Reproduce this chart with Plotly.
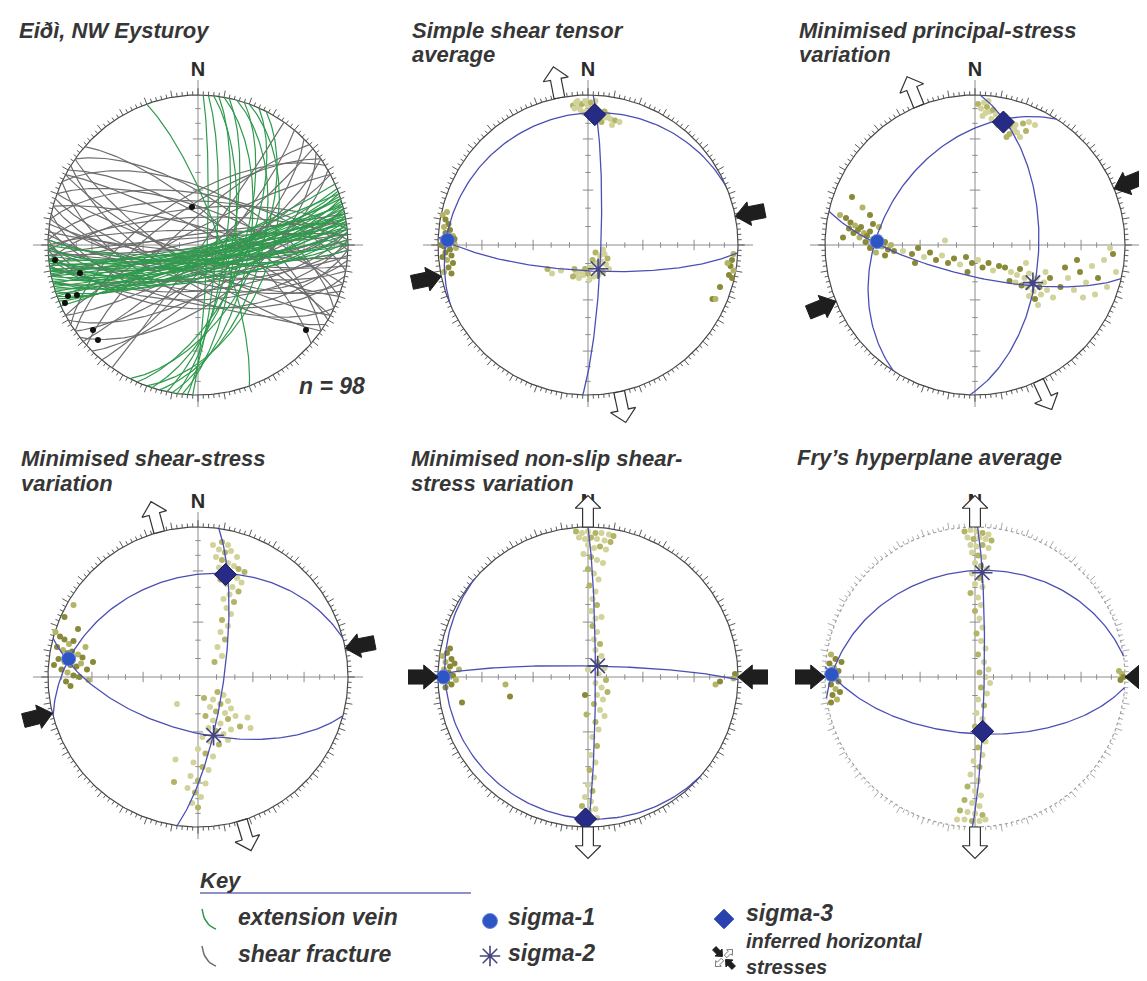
import numpy as np
import plotly.graph_objects as go

# ------------------------------------------------------------------ data
# Net 1 (Eiði): great circles, strike / dip (right-hand rule)
vein_strike = [66, 68, 69, 70, 70, 72, 72, 73, 74, 74, 75, 76, 76, 77, 78, 78, 79, 80, 80, 81,
               82, 82, 83, 84, 84, 85, 86, 88, 71, 79, 75, 81, 90, 92, 89,
               340, 2, 4, 6, 8, 10, 15, 18, 20, 27, 12, 24]
vein_dip = [86, 82, 80, 78, 88, 85, 75, 80, 76, 84, 88, 83, 72, 79, 86, 80, 74, 81, 89, 77,
            87, 70, 84, 79, 86, 72, 82, 80, 83, 87, 79, 84, 84, 80, 77,
            78, 85, 80, 70, 75, 62, 55, 66, 50, 58, 72, 64]
shear_strike = [80, 84, 88, 92, 95, 76, 262, 266, 270, 258, 86, 82,
                88, 92, 85, 96, 90, 100, 105, 94, 98, 110, 102,
                272, 268, 264, 285, 280,
                290, 300, 311, 118, 122, 115, 108, 125, 298, 295, 305,
                40, 45, 50, 55, 60, 228, 235, 242, 35, 62, 52, 238]
shear_dip = [85, 78, 82, 80, 86, 75, 84, 86, 82, 88, 88, 72,
             60, 55, 65, 65, 70, 75, 70, 76, 82, 84, 58,
             66, 75, 70, 80, 62,
             70, 75, 74, 80, 70, 62, 75, 78, 82, 60, 65,
             80, 70, 85, 75, 65, 78, 70, 82, 88, 80, 60, 64]
# slickenline markers (net units, x east / y north)
striae_x = [-0.953, -0.787, -0.867, -0.807, -0.887, -0.700, -0.667, -0.040, 0.720]
striae_y = [-0.100, -0.187, -0.340, -0.333, -0.387, -0.567, -0.633, 0.253, -0.567]

# Principal stress axes (trend, plunge) for nets 2..6
sigma1_trend = [272, 272, 278, 270, 271]
sigma1_plunge = [7, 35, 14, 4, 5]
sigma2_trend = [157, 123, 165, 41, 4]
sigma2_plunge = [76, 52, 57, 82, 31]
sigma3_trend = [3, 13, 15, 181, 172]
sigma3_plunge = [14, 17, 30, 6, 60]

# inferred horizontal stresses (azimuths)
compression_az = [[79, 258], [68, 248], [79, 256], [90, 270], [90, 270]]
extension_az = [[349, 168], [338, 155], [345, 163], [0, 180], [0, 180]]

# Bootstrap solution clouds (net units, x east / y north)
n2_north = [(-0.10, 0.93), (-0.08, 0.95), (-0.06, 0.92), (-0.04, 0.94), (-0.02, 0.96), (0.00, 0.93),
            (0.02, 0.95), (-0.05, 0.90), (-0.09, 0.91), (0.03, 0.91), (0.06, 0.90), (0.08, 0.88),
            (0.10, 0.86), (0.12, 0.85), (0.15, 0.84), (0.18, 0.83), (0.21, 0.82), (0.13, 0.87),
            (0.07, 0.84), (0.04, 0.85), (-0.01, 0.89), (0.01, 0.86), (0.05, 0.96), (-0.03, 0.88),
            (0.09, 0.82), (0.16, 0.80), (-0.07, 0.96), (0.11, 0.89)]
n2_west = [(-0.97, 0.20), (-0.95, 0.17), (-0.93, 0.14), (-0.96, 0.12), (-0.92, 0.10), (-0.95, 0.08),
           (-0.90, 0.06), (-0.97, 0.04), (-0.93, 0.03), (-0.89, 0.01), (-0.96, -0.01), (-0.92, -0.03),
           (-0.88, -0.02), (-0.95, -0.05), (-0.91, -0.07), (-0.94, -0.10), (-0.90, -0.12), (-0.93, -0.15),
           (-0.96, -0.18), (-0.91, -0.19), (-0.98, 0.00), (-0.94, 0.22), (-0.89, 0.04), (-0.97, -0.08)]
n2_center = [(0.05, -0.05), (0.08, -0.07), (0.11, -0.06), (0.13, -0.09), (0.09, -0.11), (0.06, -0.12),
             (0.03, -0.10), (0.12, -0.13), (0.02, -0.15), (-0.02, -0.16), (-0.05, -0.18), (-0.08, -0.19),
             (-0.10, -0.21), (-0.06, -0.22), (-0.03, -0.20), (0.00, -0.19), (0.04, -0.21), (0.07, -0.20),
             (0.10, -0.18), (0.14, -0.16), (0.01, -0.23), (-0.09, -0.16), (-0.18, -0.17), (-0.24, -0.19),
             (-0.27, -0.16), (0.10, -0.03)]
n2_east = [(0.97, -0.06), (0.96, -0.10), (0.95, -0.14), (0.97, -0.17), (0.94, -0.20), (0.96, -0.22),
           (0.93, -0.12), (0.88, -0.28), (0.83, -0.36), (0.85, -0.36)]

n3_north = [(0.02, 0.94), (0.04, 0.91), (0.06, 0.95), (0.08, 0.92), (0.10, 0.89), (0.07, 0.88),
            (0.12, 0.90), (0.14, 0.87), (0.16, 0.85), (0.18, 0.83), (0.20, 0.86), (0.22, 0.81),
            (0.24, 0.79), (0.26, 0.77), (0.28, 0.75), (0.23, 0.74), (0.30, 0.72), (0.27, 0.80),
            (0.32, 0.81), (0.36, 0.82), (0.40, 0.80), (0.34, 0.76), (0.11, 0.84), (0.15, 0.80),
            (0.19, 0.78), (0.05, 0.86), (0.09, 0.96), (0.21, 0.72)]
n3_west = [(-0.90, 0.20), (-0.86, 0.18), (-0.83, 0.15), (-0.80, 0.13), (-0.78, 0.10), (-0.76, 0.12),
           (-0.74, 0.08), (-0.72, 0.06), (-0.70, 0.09), (-0.68, 0.04), (-0.66, 0.01), (-0.64, 0.05),
           (-0.62, -0.01), (-0.60, 0.02), (-0.58, -0.03), (-0.56, 0.00), (-0.70, -0.02), (-0.73, 0.02),
           (-0.77, 0.05), (-0.81, 0.08), (-0.84, 0.11), (-0.66, -0.05), (-0.60, -0.07), (-0.54, -0.04),
           (-0.75, 0.25), (-0.82, 0.32), (-0.70, 0.20), (-0.64, 0.12), (-0.88, 0.05), (-0.68, 0.14)]
n3_trail = [(-0.48, -0.04), (-0.42, -0.06), (-0.38, -0.02), (-0.34, -0.08), (-0.30, -0.05), (-0.26, -0.10),
            (-0.22, -0.07), (-0.18, -0.12), (-0.14, -0.09), (-0.10, -0.13), (-0.06, -0.08), (-0.02, -0.12),
            (0.02, -0.10), (0.05, -0.15), (0.09, -0.12), (0.12, -0.17), (0.16, -0.14), (-0.40, -0.12),
            (-0.20, 0.03), (-0.05, -0.18)]
n3_southeast = [(0.20, -0.15), (0.24, -0.18), (0.28, -0.20), (0.30, -0.16), (0.33, -0.22), (0.36, -0.19),
                (0.38, -0.25), (0.41, -0.22), (0.35, -0.28), (0.31, -0.27), (0.27, -0.25), (0.39, -0.31),
                (0.43, -0.28), (0.46, -0.25), (0.44, -0.33), (0.40, -0.36), (0.36, -0.34), (0.48, -0.30),
                (0.50, -0.22), (0.47, -0.18), (0.34, -0.12), (0.23, -0.24), (0.42, -0.40), (0.52, -0.35),
                (0.57, -0.28), (0.62, -0.22), (0.66, -0.30), (0.70, -0.18), (0.74, -0.25), (0.78, -0.14),
                (0.82, -0.22), (0.86, -0.10), (0.88, -0.28), (0.92, -0.06), (0.94, -0.18), (0.72, -0.35),
                (0.60, -0.15), (0.80, -0.33), (0.90, -0.02), (0.68, -0.10)]

n4_north = [(0.16, 0.90), (0.20, 0.88), (0.14, 0.85), (0.18, 0.83), (0.22, 0.84), (0.12, 0.80),
            (0.16, 0.78), (0.20, 0.76), (0.24, 0.74), (0.27, 0.72), (0.14, 0.73), (0.18, 0.70),
            (0.22, 0.68), (0.26, 0.66), (0.29, 0.63), (0.15, 0.65), (0.19, 0.62), (0.23, 0.60),
            (0.27, 0.57), (0.21, 0.55), (0.17, 0.52), (0.24, 0.50), (0.19, 0.46), (0.22, 0.42),
            (0.16, 0.38), (0.20, 0.34), (0.15, 0.30), (0.18, 0.25), (0.13, 0.20), (0.16, 0.14),
            (0.11, 0.10), (0.26, 0.80), (0.10, 0.88), (0.31, 0.70)]
n4_west = [(-0.95, 0.30), (-0.92, 0.27), (-0.89, 0.25), (-0.86, 0.22), (-0.83, 0.24), (-0.94, 0.20),
           (-0.90, 0.18), (-0.87, 0.16), (-0.84, 0.17), (-0.80, 0.15), (-0.77, 0.13), (-0.93, 0.12),
           (-0.89, 0.10), (-0.85, 0.08), (-0.81, 0.07), (-0.78, 0.09), (-0.74, 0.05), (-0.91, 0.05),
           (-0.87, 0.03), (-0.83, 0.01), (-0.79, 0.00), (-0.73, -0.02), (-0.88, -0.03), (-0.96, 0.08),
           (-0.83, 0.48), (-0.89, 0.40), (-0.80, 0.32), (-0.75, 0.20), (-0.85, -0.06), (-0.70, 0.10)]
n4_south = [(0.13, -0.10), (0.17, -0.12), (0.10, -0.15), (0.15, -0.18), (0.20, -0.16), (0.08, -0.20),
            (0.12, -0.23), (0.18, -0.24), (0.22, -0.21), (0.05, -0.26), (0.10, -0.29), (0.15, -0.31),
            (0.20, -0.28), (0.25, -0.26), (0.07, -0.34), (0.12, -0.36), (0.17, -0.38), (0.22, -0.35),
            (0.28, -0.33), (0.03, -0.40), (0.08, -0.43), (0.14, -0.45), (0.20, -0.42), (0.00, -0.48),
            (0.05, -0.51), (0.10, -0.53), (-0.03, -0.57), (0.03, -0.60), (0.07, -0.62), (-0.05, -0.66),
            (0.00, -0.69), (0.05, -0.71), (-0.07, -0.74), (-0.02, -0.77), (0.02, -0.80), (-0.04, -0.84),
            (0.00, -0.87), (-0.14, -0.18), (-0.15, -0.55), (-0.16, -0.70), (0.35, -0.34), (0.33, -0.27),
            (0.04, -0.14)]

n5_band = [(-0.08, 0.97), (-0.04, 0.96), (0.00, 0.97), (0.05, 0.96), (0.09, 0.96), (0.14, 0.95),
           (0.17, 0.94), (-0.06, 0.93), (-0.02, 0.92), (0.02, 0.93), (0.06, 0.92), (0.11, 0.91),
           (0.15, 0.90), (0.00, 0.88), (0.04, 0.86), (0.08, 0.87), (0.12, 0.85), (-0.03, 0.82),
           (0.02, 0.80), (0.06, 0.78), (0.10, 0.76), (0.00, 0.72), (0.04, 0.69), (0.07, 0.65),
           (0.01, 0.61), (0.05, 0.57), (0.03, 0.52), (0.06, 0.48), (0.02, 0.44), (0.05, 0.39),
           (0.03, 0.34), (0.06, 0.30), (0.04, 0.25), (0.08, 0.22), (0.05, 0.18), (0.09, 0.14),
           (0.06, 0.10), (0.11, 0.06), (0.07, 0.02), (0.12, -0.02), (0.05, -0.04), (0.09, -0.07),
           (0.13, -0.10), (0.06, -0.12), (0.10, -0.15), (0.04, -0.18), (0.08, -0.22), (0.11, -0.26),
           (0.05, -0.30), (0.07, -0.35), (0.03, -0.40), (0.06, -0.46), (0.02, -0.52), (0.05, -0.57),
           (0.01, -0.62), (0.04, -0.67), (0.00, -0.72), (0.03, -0.76), (-0.02, -0.80), (0.02, -0.83),
           (-0.04, -0.86), (0.01, -0.89), (0.05, -0.88), (-0.03, -0.93), (0.02, -0.95), (0.06, -0.94),
           (-0.06, -0.96), (0.09, 0.40), (0.00, 0.05), (-0.01, -0.25)]
n5_west = [(-0.97, 0.14), (-0.94, 0.16), (-0.91, 0.12), (-0.95, 0.10), (-0.92, 0.07), (-0.89, 0.09),
           (-0.96, 0.05), (-0.93, 0.03), (-0.90, 0.01), (-0.97, -0.01), (-0.94, -0.03), (-0.91, -0.05),
           (-0.88, -0.02), (-0.95, -0.07), (-0.92, 0.19), (-0.86, 0.05)]
n5_scatter = [(-0.55, -0.05), (-0.52, -0.13), (-0.02, -0.12), (0.85, -0.05), (0.88, -0.03),
              (0.98, 0.02), (0.97, -0.01), (-0.84, -0.17)]

n6_band = [(-0.07, 0.97), (-0.03, 0.98), (0.01, 0.97), (0.05, 0.96), (0.09, 0.95), (-0.05, 0.93),
           (-0.01, 0.92), (0.03, 0.93), (0.07, 0.92), (0.11, 0.91), (-0.03, 0.88), (0.01, 0.87),
           (0.05, 0.88), (0.09, 0.86), (-0.02, 0.83), (0.02, 0.81), (0.06, 0.80), (0.00, 0.76),
           (0.04, 0.74), (0.08, 0.72), (-0.02, 0.69), (0.03, 0.66), (0.00, 0.62), (0.05, 0.60),
           (-0.03, 0.56), (0.02, 0.53), (0.04, 0.48), (0.00, 0.44), (0.03, 0.39), (0.05, 0.33),
           (0.01, 0.29), (0.04, 0.24), (0.07, 0.19), (0.02, 0.15), (0.06, 0.10), (0.09, 0.05),
           (0.03, 0.03), (0.07, 0.00), (0.10, -0.04), (0.04, -0.07), (0.08, -0.11), (0.02, -0.15),
           (0.06, -0.19), (0.01, -0.24), (0.05, -0.28), (0.00, -0.33), (0.04, -0.38), (0.07, -0.43),
           (0.02, -0.47), (0.05, -0.52), (-0.01, -0.56), (0.03, -0.60), (-0.03, -0.65), (0.02, -0.69),
           (-0.05, -0.73), (0.00, -0.76), (0.04, -0.79), (-0.07, -0.82), (-0.02, -0.84), (0.03, -0.86),
           (-0.10, -0.89), (-0.05, -0.90), (0.00, -0.91), (0.05, -0.92), (-0.12, -0.95), (-0.07, -0.95),
           (-0.02, -0.96), (0.03, -0.96), (0.07, -0.95)]
n6_west = [(-0.96, 0.15), (-0.93, 0.12), (-0.97, 0.09), (-0.94, 0.06), (-0.91, 0.04), (-0.97, 0.02),
           (-0.94, -0.01), (-0.91, -0.03), (-0.96, -0.05), (-0.93, -0.08), (-0.90, -0.10), (-0.95, -0.12),
           (-0.92, -0.15), (-0.96, -0.17), (-0.89, 0.10)]
n6_east = [(0.98, 0.02), (0.97, -0.02), (0.99, 0.00), (0.96, 0.04)]

titles = [["Eiðì, NW Eysturoy"], ["Simple shear tensor", "average"],
          ["Minimised principal-stress", "variation"], ["Minimised shear-stress", "variation"],
          ["Minimised non-slip shear-", "stress variation"], ["Fry\u2019s hyperplane average"]]

# ------------------------------------------------------------------ layout constants
W, H = 1147, 981
R = 150.0
CENTERS = [(190, 237), (580, 237), (967, 237), (190, 669), (580, 669), (967, 669)]
XR, YR = 1.2, 1.25
FONT = "Liberation Sans, Arial, Helvetica, sans-serif"
TXT = "#363636"
LIGHT, MID, DARK = "#d2d39a", "#b3b466", "#8a8938"
BLUE = "#4b4fb3"
STAR = "#45457f"

# ------------------------------------------------------------------ geometry helpers
def line_vec(trend, plunge):
    t, p = np.radians(trend), np.radians(plunge)
    return np.array([np.cos(p) * np.sin(t), np.cos(p) * np.cos(t), -np.sin(p)])


def project(v):
    vx, vy, vz = v
    if vz > 0:
        vx, vy, vz = -vx, -vy, -vz
    k = 1.0 / np.sqrt(1.0 - vz)
    return vx * k, vy * k


def great_circle(pole_trend, pole_plunge, n=121):
    nv = line_vec(pole_trend, pole_plunge)
    a = np.cross(nv, [0.0, 0.0, 1.0])
    if np.linalg.norm(a) < 1e-9:
        a = np.array([1.0, 0.0, 0.0])
    a = a / np.linalg.norm(a)
    b = np.cross(nv, a)
    b = b / np.linalg.norm(b)
    if b[2] > 0:
        b = -b
    t = np.linspace(0, np.pi, n)
    pts = np.outer(np.cos(t), a) + np.outer(np.sin(t), b)
    z = np.clip(pts[:, 2], -1, 0)
    k = 1.0 / np.sqrt(1.0 - z)
    return pts[:, 0] * k, pts[:, 1] * k


def plane_circle(strike, dip):
    return great_circle((strike - 90) % 360, 90 - dip)


def joined(curves):
    xs, ys = [], []
    for cx, cy in curves:
        xs += list(cx) + [None]
        ys += list(cy) + [None]
    return xs, ys


def arrow_poly(az, r0, length, head_len, head_hw, shaft_hw, inward):
    if inward:
        pts = [(r0, 0), (r0 + head_len, head_hw), (r0 + head_len, shaft_hw), (r0 + length, shaft_hw),
               (r0 + length, -shaft_hw), (r0 + head_len, -shaft_hw), (r0 + head_len, -head_hw), (r0, 0)]
    else:
        e = r0 + length - head_len
        pts = [(r0, shaft_hw), (e, shaft_hw), (e, head_hw), (r0 + length, 0), (e, -head_hw),
               (e, -shaft_hw), (r0, -shaft_hw), (r0, shaft_hw)]
    a = np.radians(az)
    u = np.array([np.sin(a), np.cos(a)])
    w = np.array([np.cos(a), -np.sin(a)])
    xs = [r * u[0] + t * w[0] for r, t in pts]
    ys = [r * u[1] + t * w[1] for r, t in pts]
    return xs, ys


fig = go.Figure()


def add(tr, i):
    tr.update(xaxis="x" if i == 1 else f"x{i}", yaxis="y" if i == 1 else f"y{i}",
              showlegend=False, hoverinfo="skip")
    fig.add_trace(tr)


def lines_trace(xy, **kw):
    return go.Scatter(x=xy[0], y=xy[1], mode="lines", **kw)


def frame(i, light=False):
    xs, ys = [-1.1, 1.1, None, 0, 0, None], [0, 0, None, -1.08, 1.1, None]
    for p in range(10, 90, 10):
        d = np.sqrt(1 - np.sin(np.radians(p)))
        L = 0.035 if p % 30 == 0 else 0.018
        for s in (-1, 1):
            xs += [s * d, s * d, None, -L, L, None]
            ys += [-L, L, None, s * d, s * d, None]
    add(go.Scatter(x=xs, y=ys, mode="lines", line=dict(color="#8c8c8c", width=1)), i)
    th = np.linspace(0, 2 * np.pi, 361)
    pc = "#a0a0a0" if light else "#4a4a4a"
    add(go.Scatter(x=np.sin(th), y=np.cos(th), mode="lines",
                   line=dict(color=pc, width=1.2, dash="dot" if light else "solid")), i)
    tx, ty = [], []
    for a in range(0, 360, 2):
        L = 0.045 if a % 10 == 0 else 0.025
        ar = np.radians(a)
        tx += [np.sin(ar), (1 + L) * np.sin(ar), None]
        ty += [np.cos(ar), (1 + L) * np.cos(ar), None]
    add(go.Scatter(x=tx, y=ty, mode="lines", line=dict(color=pc, width=0.9)), i)


def cloud(i, pts, c1, c2):
    cols = [c2 if k % 3 == 0 else c1 for k in range(len(pts))]
    add(go.Scatter(x=[p[0] for p in pts], y=[p[1] for p in pts], mode="markers",
                   marker=dict(size=6, color=cols, line=dict(width=0))), i)


def north(i):
    add(go.Scatter(x=[0], y=[1.16], mode="text", text=["<b>N</b>"], cliponaxis=False,
                   textfont=dict(family=FONT, size=20, color="#2a2a2a")), i)


# ------------------------------------------------------------------ net 1
frame(1)
add(lines_trace(joined([plane_circle(s, d) for s, d in zip(shear_strike, shear_dip)]),
                line=dict(color="#6e6e6e", width=1.2)), 1)
add(lines_trace(joined([plane_circle(s, d) for s, d in zip(vein_strike, vein_dip)]),
                line=dict(color="#2f9a4c", width=1.2)), 1)
add(go.Scatter(x=striae_x, y=striae_y, mode="markers", marker=dict(size=6, color="#111111")), 1)
north(1)

# ------------------------------------------------------------------ nets 2..6
clouds = {
    2: [(n2_north, LIGHT, MID), (n2_west, DARK, MID), (n2_center, LIGHT, MID), (n2_east, DARK, MID)],
    3: [(n3_north, LIGHT, MID), (n3_west, DARK, MID), (n3_trail, DARK, LIGHT), (n3_southeast, LIGHT, DARK)],
    4: [(n4_north, LIGHT, MID), (n4_west, DARK, MID), (n4_south, LIGHT, MID)],
    5: [(n5_band, LIGHT, MID), (n5_west, DARK, MID), (n5_scatter, DARK, MID)],
    6: [(n6_band, LIGHT, MID), (n6_west, DARK, MID), (n6_east, DARK, MID)],
}
for k in range(5):
    i = k + 2
    frame(i, light=(i == 6))
    for pts, c1, c2 in clouds[i]:
        cloud(i, pts, c1, c2)
    axes = [(sigma1_trend[k], sigma1_plunge[k]), (sigma2_trend[k], sigma2_plunge[k]),
            (sigma3_trend[k], sigma3_plunge[k])]
    add(lines_trace(joined([great_circle(t, p) for t, p in axes]), line=dict(color=BLUE, width=1.3)), i)
    p1 = project(line_vec(*axes[0]))
    p2 = project(line_vec(*axes[1]))
    p3 = project(line_vec(*axes[2]))
    add(go.Scatter(x=[p1[0]], y=[p1[1]], mode="markers",
                   marker=dict(symbol="circle", size=14, color="#2d55c4",
                               line=dict(color="#6a86e0", width=1))), i)
    add(go.Scatter(x=[p2[0]], y=[p2[1]], mode="markers",
                   marker=dict(symbol="asterisk-open", size=17, color=STAR,
                               line=dict(color=STAR, width=1.6))), i)
    add(go.Scatter(x=[p3[0]], y=[p3[1]], mode="markers",
                   marker=dict(symbol="diamond", size=17, color="#262c86",
                               line=dict(color="#15185a", width=1))), i)
    north(i)
    for az in compression_az[k]:
        ax_, ay_ = arrow_poly(az, 1.0, 0.2, 0.095, 0.08, 0.047, True)
        add(go.Scatter(x=ax_, y=ay_, mode="lines", fill="toself", fillcolor="#1e1e1e",
                       line=dict(color="#1e1e1e", width=1)), i)
    for az in extension_az[k]:
        ax_, ay_ = arrow_poly(az, 1.0, 0.21, 0.085, 0.085, 0.036, False)
        add(go.Scatter(x=ax_, y=ay_, mode="lines", fill="toself", fillcolor="white",
                       line=dict(color="#333333", width=1.2)), i)

# ------------------------------------------------------------------ axes layout
for i, (cx, cy) in enumerate(CENTERS, start=1):
    sfx = "" if i == 1 else str(i)
    fig.layout[f"xaxis{sfx}"] = dict(domain=[(cx - XR * R) / W, min(1.0, (cx + XR * R) / W)],
                                     range=[-XR, XR], visible=False, fixedrange=True, anchor=f"y{sfx}")
    fig.layout[f"yaxis{sfx}"] = dict(domain=[1 - (cy + YR * R) / H, 1 - (cy - YR * R) / H],
                                     range=[-YR, YR], visible=False, fixedrange=True, anchor=f"x{sfx}")
fig.layout["xaxis7"] = dict(domain=[0, 1], range=[0, W], visible=False, fixedrange=True, anchor="y7")
fig.layout["yaxis7"] = dict(domain=[0, 1], range=[H, 0], visible=False, fixedrange=True, anchor="x7")


def add_key(tr):
    tr.update(xaxis="x7", yaxis="y7", showlegend=False, hoverinfo="skip")
    fig.add_trace(tr)


# ------------------------------------------------------------------ key
add_key(go.Scatter(x=[192, 463], y=[885, 885], mode="lines", line=dict(color="#6d6db8", width=1.5)))
tt = np.linspace(0, 1, 12)
for y0, col in ((901, "#2f9a4c"), (938, "#6e6e6e")):
    bx = (1 - tt) ** 2 * 194 + 2 * (1 - tt) * tt * 196 + tt ** 2 * 208
    by = (1 - tt) ** 2 * y0 + 2 * (1 - tt) * tt * (y0 + 16) + tt ** 2 * (y0 + 20)
    add_key(go.Scatter(x=bx, y=by, mode="lines", line=dict(color=col, width=1.5)))
add_key(go.Scatter(x=[482], y=[913], mode="markers",
                   marker=dict(symbol="circle", size=15, color="#2d55c4", line=dict(color="#6a86e0", width=1))))
add_key(go.Scatter(x=[482], y=[948], mode="markers",
                   marker=dict(symbol="asterisk-open", size=17, color=STAR, line=dict(color=STAR, width=1.6))))
add_key(go.Scatter(x=[716], y=[911], mode="markers",
                   marker=dict(symbol="diamond", size=15, color="#2a42b0", line=dict(color="#2a42b0", width=1))))
icx, icy, isc = 716, 950, 11
for az in (315, 135):
    ax_, ay_ = arrow_poly(az, 0.2, 1.05, 0.5, 0.45, 0.22, True)
    add_key(go.Scatter(x=[icx + isc * v for v in ax_], y=[icy - isc * v for v in ay_], mode="lines",
                       fill="toself", fillcolor="#1e1e1e", line=dict(color="#1e1e1e", width=1)))
for az in (45, 225):
    ax_, ay_ = arrow_poly(az, 0.2, 0.9, 0.4, 0.36, 0.16, False)
    add_key(go.Scatter(x=[icx + isc * v for v in ax_], y=[icy - isc * v for v in ay_], mode="lines",
                       fill="toself", fillcolor="white", line=dict(color="#555555", width=0.8)))

# ------------------------------------------------------------------ text
ann = []


def txt(s, x, y_center, size=23, bold=True, italic=True, color=TXT):
    t = s
    if italic:
        t = f"<i>{t}</i>"
    if bold:
        t = f"<b>{t}</b>"
    ann.append(dict(text=t, x=x / W, y=1 - y_center / H, xref="paper", yref="paper",
                    xanchor="left", yanchor="middle", align="left", showarrow=False, borderpad=0,
                    font=dict(family=FONT, size=size, color=color)))


# (left x, first-line centre, line step)
title_pos = [(10, 23, 23.5), (403, 23, 23.5), (790, 23, 23.5),
             (12, 450, 25), (402, 450, 25), (788, 449, 25)]
for lines, (tx0, c0, step) in zip(titles, title_pos):
    for j, line in enumerate(lines):
        txt(line, tx0, c0 + step * j, size=22)
txt("n = 98", 290, 378)
txt("Key", 191, 872, size=22)
txt("extension vein", 229, 909, size=23)
txt("shear fracture", 229, 946, size=23)
txt("sigma-1", 499, 909, size=23)
txt("sigma-2", 499, 945, size=23)
txt("sigma-3", 737, 905, size=23)
txt("inferred horizontal<br>stresses", 737, 946, size=20)

fig.update_layout(width=W, height=H, margin=dict(l=0, r=0, t=0, b=0),
                  paper_bgcolor="white", plot_bgcolor="rgba(0,0,0,0)",
                  annotations=ann, hovermode=False, showlegend=False)
fig.write_html("out.html")
